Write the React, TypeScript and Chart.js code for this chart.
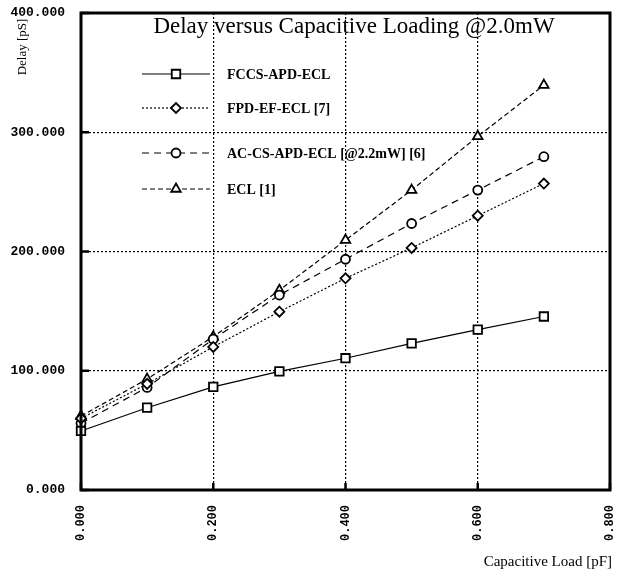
import React, { useEffect, useRef } from 'react';
import { Chart, registerables } from 'chart.js';
import { drawPoint } from 'chart.js/helpers';

Chart.register(...registerables);

const xLoads = [0, 0.1, 0.2, 0.3, 0.4, 0.5, 0.6, 0.7];
const fccsDelay = [49.5, 69, 86.5, 99.5, 110.5, 123, 134.5, 145.5];
const fpdDelay = [60, 89, 120, 149.5, 177.5, 203, 230, 257];
const acDelay = [56, 86, 126.5, 163.5, 193.5, 223.5, 251.5, 279.5];
const eclDelay = [62, 93, 128.5, 167.5, 209.5, 251.5, 296.5, 339.5];

const seriesNames = ['FCCS-APD-ECL', 'FPD-EF-ECL [7]', 'AC-CS-APD-ECL [@2.2mW] [6]', 'ECL [1]'];
const xTicks = [0, 0.2, 0.4, 0.6, 0.8];
const yTicks = [0, 100, 200, 300, 400];
const titleText = 'Delay versus Capacitive Loading @2.0mW';
const yTitle = 'Delay [pS]';
const xTitle = 'Capacitive Load [pF]';

const legendRows = [74, 108, 153, 189];

const toPoints = (ys: number[]) => xLoads.map((x, i) => ({ x, y: ys[i] }));

const decorPlugin = {
  id: 'decor',
  afterDraw(chart: any) {
    const { ctx, chartArea } = chart;
    const { left, right, top, bottom } = chartArea;
    ctx.save();
    ctx.strokeStyle = '#000';
    ctx.lineWidth = 3;
    ctx.setLineDash([]);
    ctx.strokeRect(left, top, right - left, bottom - top);
    const xs = chart.scales.x;
    const ys = chart.scales.y;
    ctx.lineWidth = 2.5;
    yTicks.forEach((v) => {
      const y = ys.getPixelForValue(v);
      ctx.beginPath();
      ctx.moveTo(left, y);
      ctx.lineTo(left + 8, y);
      ctx.stroke();
    });
    xTicks.forEach((v) => {
      const x = xs.getPixelForValue(v);
      ctx.beginPath();
      ctx.moveTo(x, bottom);
      ctx.lineTo(x, bottom - 7);
      ctx.stroke();
    });
    ctx.fillStyle = '#000';
    ctx.font = '23px "Liberation Serif", serif';
    ctx.textAlign = 'center';
    ctx.textBaseline = 'alphabetic';
    ctx.fillText(titleText, 354, 33);
    chart.data.datasets.forEach((ds: any, i: number) => {
      const y = legendRows[i];
      ctx.strokeStyle = '#000';
      ctx.lineWidth = ds.borderWidth;
      ctx.setLineDash(ds.borderDash || []);
      ctx.beginPath();
      ctx.moveTo(142, y);
      ctx.lineTo(210, y);
      ctx.stroke();
      ctx.setLineDash([]);
      ctx.fillStyle = '#fff';
      ctx.lineWidth = ds.pointBorderWidth;
      drawPoint(ctx, { pointStyle: ds.pointStyle, radius: ds.pointRadius, borderWidth: ds.pointBorderWidth, rotation: 0 } as any, 176, y);
      ctx.fillStyle = '#000';
      ctx.font = 'bold 14px "Liberation Serif", serif';
      ctx.textAlign = 'left';
      ctx.textBaseline = 'middle';
      ctx.fillText(ds.label, 227, y + 1);
    });
    ctx.fillStyle = '#000';
    ctx.font = '15px "Liberation Serif", serif';
    ctx.textAlign = 'right';
    ctx.textBaseline = 'middle';
    ctx.fillText(xTitle, 612, 562);
    ctx.save();
    ctx.translate(23, 47);
    ctx.rotate(-Math.PI / 2);
    ctx.textAlign = 'center';
    ctx.font = '13px "Liberation Serif", serif';
    ctx.fillText(yTitle, 0, 0);
    ctx.restore();
    ctx.restore();
  },
};

export default function App() {
  const ref = useRef<HTMLCanvasElement | null>(null);
  useEffect(() => {
    document.body.style.margin = '0';
    const canvas = ref.current;
    if (!canvas) return;
    const common = {
      borderColor: '#000',
      pointBorderColor: '#000',
      pointBackgroundColor: '#fff',
      borderWidth: 1.2,
      pointBorderWidth: 1.8,
      fill: false,
      tension: 0,
      clip: false as any,
    };
    const chart = new Chart(canvas, {
      type: 'line',
      data: {
        datasets: [
          { ...common, label: seriesNames[0], data: toPoints(fccsDelay), pointStyle: 'rect', pointRadius: 6, borderDash: [] },
          { ...common, label: seriesNames[1], data: toPoints(fpdDelay), pointStyle: 'rectRot', pointRadius: 5, borderDash: [2, 2] },
          { ...common, label: seriesNames[2], data: toPoints(acDelay), pointStyle: 'circle', pointRadius: 4.5, borderDash: [7, 5] },
          { ...common, label: seriesNames[3], data: toPoints(eclDelay), pointStyle: 'triangle', pointRadius: 5.5, borderDash: [5, 3] },
        ] as any,
      },
      options: {
        animation: false,
        responsive: false,
        maintainAspectRatio: false,
        layout: { padding: { top: 13, right: 16, left: 0, bottom: 0 } },
        plugins: { legend: { display: false }, tooltip: { enabled: false }, title: { display: false } },
        scales: {
          x: {
            type: 'linear',
            min: 0,
            max: 0.8,
            afterBuildTicks: (s: any) => { s.ticks = xTicks.map((v) => ({ value: v })); },
            afterFit: (s: any) => { s.height = 83; s.paddingLeft = 0; s.paddingRight = 0; s.paddingTop = 0; s.paddingBottom = 0; },
            grid: { color: '#000', lineWidth: 1.2, drawTicks: false },
            border: { display: false, dash: [2, 2] },
            ticks: {
              color: '#000',
              maxRotation: 90,
              minRotation: 90,
              padding: 15,
              font: { family: '"Liberation Mono", monospace', size: 12, weight: 'bold' },
              callback: (v: any) => Number(v).toFixed(3),
            },
          },
          y: {
            type: 'linear',
            min: 0,
            max: 400,
            afterBuildTicks: (s: any) => { s.ticks = yTicks.map((v) => ({ value: v })); },
            afterFit: (s: any) => { s.width = 81; s.paddingLeft = 0; s.paddingRight = 0; s.paddingTop = 0; s.paddingBottom = 0; },
            grid: { color: '#000', lineWidth: 1.2, drawTicks: false },
            border: { display: false, dash: [2, 2] },
            ticks: {
              color: '#000',
              padding: 16,
              font: { family: '"Liberation Mono", monospace', size: 13, weight: 'bold' },
              callback: (v: any) => Number(v).toFixed(3),
            },
          },
        },
      } as any,
      plugins: [decorPlugin],
    });
    return () => chart.destroy();
  }, []);
  return <canvas ref={ref} width={626} height={573} style={{ display: 'block', width: 626, height: 573 }} />;
}
